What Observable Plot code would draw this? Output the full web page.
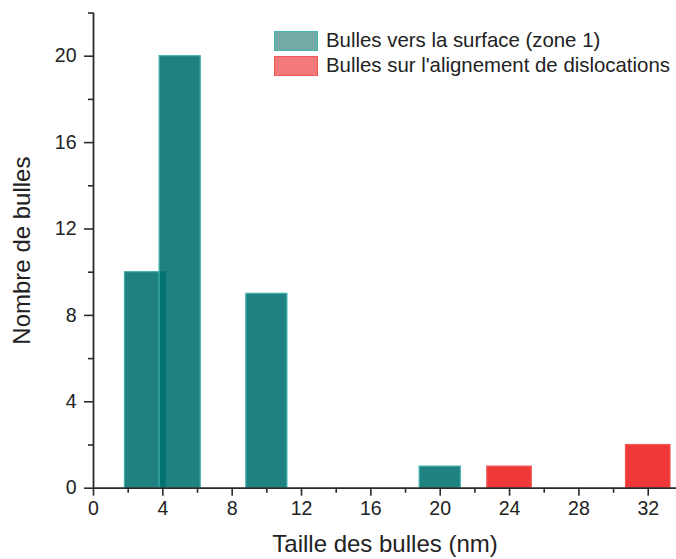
<!DOCTYPE html>
<html>
<head>
<meta charset="utf-8">
<script src="https://cdn.jsdelivr.net/npm/d3@7"></script>
<script src="https://cdn.jsdelivr.net/npm/@observablehq/plot@0.6"></script>
<style>
  html, body { margin: 0; padding: 0; background: #fff; }
  #wrap { position: relative; width: 676px; height: 559px; font-family: "Liberation Sans", Arial, sans-serif; }
  .legend { position: absolute; left: 274px; top: 28px; font-size: 20.4px; color: #222; }
  .legend .item { display: flex; align-items: center; height: 25px; }
  .legend .sw { width: 44px; height: 20px; box-sizing: border-box; margin-right: 8px; }
</style>
</head>
<body>
<div id="wrap"></div>
<script>
// Data
const tealSizes = [3, 5, 10, 20];
const tealCounts = [10, 20, 9, 1];
const redSizes = [24, 32];
const redCounts = [1, 2];
const seriesNames = ["Bulles vers la surface (zone 1)", "Bulles sur l'alignement de dislocations"];
const xTicks = [0, 4, 8, 12, 16, 20, 24, 28, 32];
const xMinor = [2, 6, 10, 14, 18, 22, 26, 30];
const yTicks = [0, 4, 8, 12, 16, 20];
const yMinor = [2, 6, 10, 14, 18, 22];

const teal = tealSizes.map((x, i) => ({x, count: tealCounts[i]}));
const red = redSizes.map((x, i) => ({x, count: redCounts[i]}));
const wTeal = 2.37, wRed = 2.57;

const font = "Liberation Sans, Arial, sans-serif";
const plot = Plot.plot({
  width: 676,
  height: 559,
  marginLeft: 93,
  marginRight: 0,
  marginTop: 12.5,
  marginBottom: 71.3,
  style: {fontFamily: font, fontSize: "19.5px", color: "#222", background: "#fff"},
  x: {domain: [0, 33.63]},
  y: {domain: [0, 22]},
  marks: [
    Plot.rectY(teal, {x1: d => d.x - wTeal / 2, x2: d => d.x + wTeal / 2, y: "count",
      fill: "#00706e", fillOpacity: 0.88, stroke: "#3fb0ac", strokeWidth: 1.2}),
    Plot.rectY(red, {x1: d => d.x - wRed / 2, x2: d => d.x + wRed / 2, y: "count",
      fill: "#ec2222", fillOpacity: 0.9, stroke: "#f25a5a", strokeWidth: 1.2}),
    Plot.ruleX([0], {stroke: "#2a2a2a", strokeWidth: 1.8}),
    Plot.ruleY([0], {stroke: "#2a2a2a", strokeWidth: 1.8}),
    Plot.axisX({ticks: xTicks, tickSize: 8, tickPadding: 5, stroke: "#2a2a2a", strokeWidth: 1.6,
      fontSize: 19.5, label: "Taille des bulles (nm)", labelAnchor: "center", labelOffset: 64, labelArrow: "none",
      tickFormat: d => String(d)}),
    Plot.axisX({ticks: xMinor, tickSize: 5, stroke: "#2a2a2a", strokeWidth: 1.6, tickFormat: null, label: null, text: null}),
    Plot.axisY({ticks: yTicks, tickSize: 9, tickPadding: 8, stroke: "#2a2a2a", strokeWidth: 1.6,
      fontSize: 19.5, label: "Nombre de bulles", labelAnchor: "center", labelOffset: 81, labelArrow: "none",
      tickFormat: d => String(d)}),
    Plot.axisY({ticks: yMinor, tickSize: 5, stroke: "#2a2a2a", strokeWidth: 1.6, tickFormat: null, label: null, text: null})
  ]
});
plot.querySelectorAll("g[aria-label='x-axis tick label'] text, g[aria-label='y-axis tick label'] text").forEach(t => {
  t.style.fontSize = "19.5px";
});
plot.querySelectorAll("g[aria-label='x-axis label'] text, g[aria-label='y-axis label'] text").forEach(t => {
  t.style.fontSize = "24px";
  t.textContent = t.textContent.replace(/\s*[→↑]\s*/g, "").replace(/^\s*[←↓]\s*/g, "");
});
const wrap = document.getElementById("wrap");
wrap.appendChild(plot);
const legend = document.createElement("div");
legend.className = "legend";
legend.innerHTML = `
  <div class="item"><div class="sw" style="background:#74aaa6;border:1.5px solid #45b5b0"></div>${seriesNames[0]}</div>
  <div class="item"><div class="sw" style="background:#f27a7a;border:1.5px solid #ef5656"></div>${seriesNames[1]}</div>`;
wrap.appendChild(legend);
</script>
</body>
</html>
